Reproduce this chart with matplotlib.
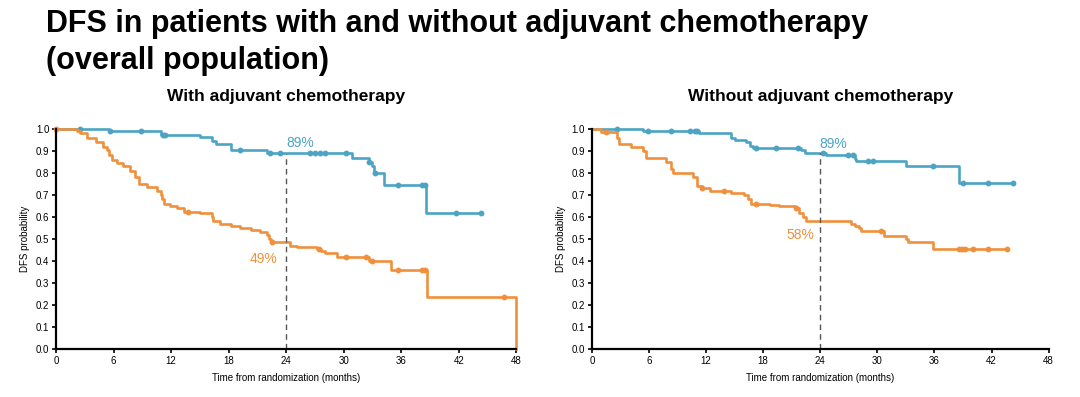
import numpy as np
import matplotlib
matplotlib.use('Agg')
import matplotlib.pyplot as plt

# === Data ===
# left panel: with adjuvant chemotherapy
with_blue_t = [0, 5.5, 10.9, 15.0, 16.3, 16.7, 18.2, 22.0, 30.9, 32.6, 32.9, 33.2, 34.2, 38.6]
with_blue_s = [1.0, 0.99, 0.975, 0.965, 0.945, 0.93, 0.905, 0.89, 0.87, 0.85, 0.83, 0.80, 0.745, 0.62]
with_blue_end = 44.3
with_blue_cens = [2.5, 5.6, 8.8, 11.1, 11.4, 19.2, 22.3, 23.4, 26.5, 27.0, 27.5, 28.1,
                  30.2, 32.6, 33.3, 35.7, 38.2, 38.5, 41.7, 44.3]

with_orange_t = [0, 2.2, 2.5, 3.2, 4.2, 4.9, 5.3, 5.5, 5.8, 6.3, 7.0, 7.7, 8.2, 8.6, 9.5,
                 10.5, 10.9, 11.0, 11.2, 11.9, 12.6, 13.3, 15.0, 16.3, 16.4, 17.1, 18.2,
                 19.2, 20.3, 21.3, 22.0, 22.2, 22.4, 24.4, 25.1, 27.2, 27.6, 28.1, 29.3,
                 32.6, 34.9, 38.7, 48.0]
with_orange_s = [1.0, 0.99, 0.98, 0.96, 0.94, 0.92, 0.905, 0.88, 0.86, 0.845, 0.83, 0.81,
                 0.78, 0.75, 0.735, 0.72, 0.70, 0.68, 0.66, 0.65, 0.64, 0.625, 0.62, 0.60,
                 0.58, 0.57, 0.56, 0.55, 0.54, 0.53, 0.52, 0.50, 0.485, 0.47, 0.465, 0.455,
                 0.445, 0.435, 0.42, 0.40, 0.36, 0.235, 0.0]
with_orange_end = 48.0
with_orange_cens = [0, 13.8, 22.5, 27.4, 30.2, 32.3, 33.0, 35.7, 38.2, 38.5, 46.7]

# right panel: without adjuvant chemotherapy
wo_blue_t = [0, 5.4, 11.3, 14.6, 15.0, 16.2, 16.6, 16.9, 22.0, 22.4, 24.6, 27.6, 27.8, 33.0, 38.6]
wo_blue_s = [1.0, 0.99, 0.98, 0.96, 0.95, 0.94, 0.925, 0.915, 0.905, 0.89, 0.88, 0.865,
             0.855, 0.83, 0.755]
wo_blue_end = 44.3
wo_blue_cens = [2.6, 5.9, 8.3, 10.3, 10.8, 11.1, 17.3, 19.4, 21.7, 24.3, 26.9, 27.4,
                29.0, 29.5, 35.8, 39.0, 41.6, 44.3]

wo_orange_t = [0, 1.0, 2.6, 2.9, 4.1, 5.4, 5.7, 7.8, 8.3, 8.5, 10.6, 11.0, 11.1, 11.6,
               12.4, 14.6, 16.0, 16.4, 16.7, 18.7, 19.7, 21.3, 21.8, 22.2, 22.5, 27.2,
               27.6, 28.1, 28.3, 30.7, 33.0, 33.2, 35.8]
wo_orange_s = [1.0, 0.985, 0.96, 0.93, 0.92, 0.90, 0.87, 0.85, 0.82, 0.80, 0.78, 0.75,
               0.74, 0.73, 0.72, 0.71, 0.70, 0.68, 0.66, 0.655, 0.65, 0.64, 0.62, 0.60,
               0.58, 0.57, 0.56, 0.55, 0.535, 0.515, 0.50, 0.485, 0.455]
wo_orange_end = 43.6
wo_orange_cens = [1.5, 11.6, 13.9, 17.3, 21.5, 30.4, 38.6, 38.9, 39.2, 40.0, 41.6, 43.6]

# 24-month landmark labels
with_labels = [("89%", 25.5, 0.935, "blue"), ("49%", 21.6, 0.41, "orange")]
wo_labels = [("89%", 25.4, 0.93, "blue"), ("58%", 21.9, 0.52, "orange")]
landmark = 24

# === Style ===
BLUE = "#4ba4c4"
ORANGE = "#f0903c"
COLORS = {"blue": BLUE, "orange": ORANGE}
plt.rcParams['font.family'] = ['Liberation Sans', 'DejaVu Sans']


def km(ax, t, s, end, cens, color):
    t = list(t) + [end]
    s = list(s) + [s[-1]]
    ax.step(t, s, where='post', color=color, lw=1.9, clip_on=False)
    idx = np.searchsorted(t, cens, side='right') - 1
    cy = np.array(s)[idx]
    ax.plot(cens, cy, ls='none', marker='o', ms=3.2, color=color, clip_on=False)


def style_ax(ax, title, landmark_top):
    ax.set_xlim(0, 48)
    ax.set_ylim(0, 1.0)
    ax.set_xticks(np.arange(0, 49, 6))
    ax.set_yticks(np.arange(0, 1.01, 0.1))
    ax.set_yticklabels([f"{v:.1f}" for v in np.arange(0, 1.01, 0.1)])
    for side in ["top", "right"]:
        ax.spines[side].set_visible(False)
    for side in ["left", "bottom"]:
        ax.spines[side].set_linewidth(1.6)
    ax.tick_params(direction='out', length=3, width=1.2, labelsize=7, pad=2)
    ax.set_xlabel("Time from randomization (months)", fontsize=7, labelpad=5)
    ax.set_ylabel("DFS probability", fontsize=7, labelpad=4)
    ax.set_title(title, fontsize=12.5, fontweight='bold', pad=20)
    ax.plot([landmark, landmark], [0, landmark_top], ls=(0, (4, 3)), color="#555555", lw=1)


fig = plt.figure(figsize=(10.8, 3.97), dpi=100)
ax1 = fig.add_axes([0.052, 0.121, 0.426, 0.554])
ax2 = fig.add_axes([0.548, 0.121, 0.423, 0.554])

km(ax1, with_blue_t, with_blue_s, with_blue_end, with_blue_cens, BLUE)
km(ax1, with_orange_t, with_orange_s, with_orange_end, with_orange_cens, ORANGE)
style_ax(ax1, "With adjuvant chemotherapy", 0.885)
for txt, x, y, c in with_labels:
    ax1.text(x, y, txt, color=COLORS[c], fontsize=10, ha='center', va='center')

km(ax2, wo_blue_t, wo_blue_s, wo_blue_end, wo_blue_cens, BLUE)
km(ax2, wo_orange_t, wo_orange_s, wo_orange_end, wo_orange_cens, ORANGE)
style_ax(ax2, "Without adjuvant chemotherapy", 0.89)
for txt, x, y, c in wo_labels:
    ax2.text(x, y, txt, color=COLORS[c], fontsize=10, ha='center', va='center')

fig.text(0.043, 0.977, "DFS in patients with and without adjuvant chemotherapy\n(overall population)",
         fontsize=22, fontweight='bold', ha='left', va='top', linespacing=1.3)

fig.savefig("out.png", dpi=100)
